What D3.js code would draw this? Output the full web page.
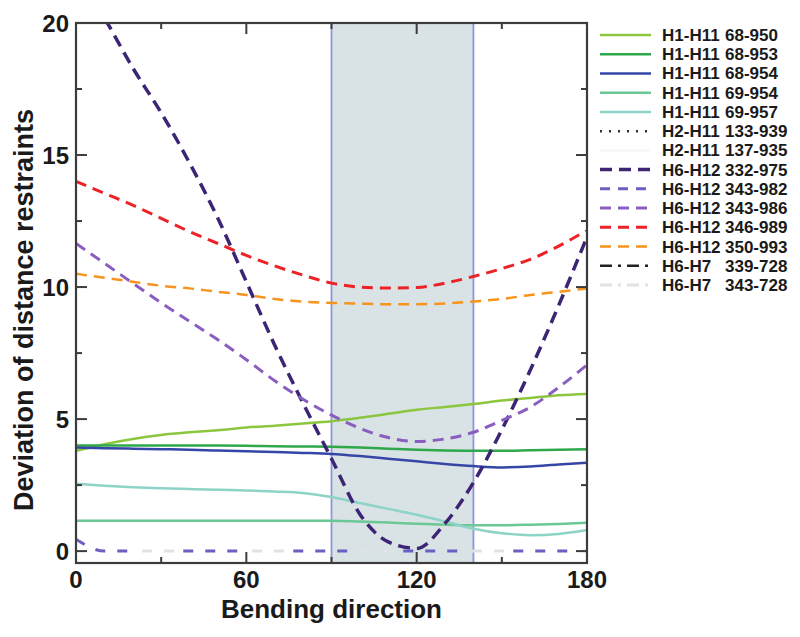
<!DOCTYPE html>
<html>
<head>
<meta charset="utf-8">
<script src="https://cdn.jsdelivr.net/npm/d3@7"></script>
<style>
  body { margin: 0; background: #fff; }
  text { font-family: "Liberation Sans", Arial, Helvetica, sans-serif; font-weight: bold; fill: #1a1a1a; }
</style>
</head>
<body>
<div id="chart"></div>
<script>
// bending angle samples (degrees)
var angles = [0, 10, 20, 30, 40, 50, 60, 70, 80, 90, 100, 110, 120, 130, 140, 150, 160, 170, 180];

// deviation values, one array per restraint
var h1_68_950 = [3.8, 4.05, 4.25, 4.4, 4.5, 4.58, 4.68, 4.75, 4.83, 4.92, 5.05, 5.2, 5.35, 5.46, 5.57, 5.7, 5.8, 5.9, 5.95];
var h1_68_953 = [4.0, 4.0, 4.0, 4.0, 4.0, 4.0, 3.99, 3.97, 3.96, 3.95, 3.92, 3.88, 3.84, 3.81, 3.8, 3.8, 3.82, 3.84, 3.86];
var h1_68_954 = [3.92, 3.9, 3.88, 3.86, 3.84, 3.81, 3.78, 3.75, 3.72, 3.68, 3.6, 3.5, 3.4, 3.3, 3.22, 3.17, 3.2, 3.28, 3.35];
var h1_69_954 = [1.15, 1.15, 1.15, 1.15, 1.15, 1.15, 1.15, 1.15, 1.15, 1.15, 1.12, 1.08, 1.04, 1.0, 0.98, 0.98, 1.0, 1.03, 1.07];
var h1_69_957 = [2.55, 2.48, 2.42, 2.38, 2.35, 2.32, 2.3, 2.26, 2.2, 2.05, 1.82, 1.6, 1.38, 1.12, 0.85, 0.68, 0.6, 0.65, 0.8];
var h6_332_975 = [22.0, 20.2, 18.3, 16.6, 14.7, 12.6, 10.2, 7.8, 5.6, 3.5, 1.4, 0.35, 0.1, 1.05, 2.6, 4.6, 6.85, 9.3, 11.9];
var h6_343_982 = [0.45, 0, 0, 0, 0, 0, 0, 0, 0, 0, 0, 0, 0, 0, 0, 0, 0, 0, 0];
var h6_343_986 = [11.65, 10.9, 10.15, 9.4, 8.7, 8.0, 7.25, 6.45, 5.75, 5.15, 4.65, 4.3, 4.15, 4.25, 4.5, 4.95, 5.45, 6.2, 7.05];
var h6_346_989 = [14.0, 13.55, 13.1, 12.6, 12.1, 11.65, 11.2, 10.8, 10.45, 10.15, 10.0, 9.96, 9.98, 10.15, 10.4, 10.7, 11.05, 11.55, 12.15];
var h6_350_993 = [10.5, 10.35, 10.2, 10.05, 9.95, 9.82, 9.7, 9.55, 9.45, 9.4, 9.37, 9.35, 9.35, 9.38, 9.45, 9.55, 9.7, 9.82, 9.95];
var h7_343_728 = [0, 0, 0, 0, 0, 0, 0, 0, 0, 0, 0, 0, 0, 0, 0, 0, 0, 0, 0];

// legend entries (pair names, atom ranges)
var pairNames = ["H1-H11", "H1-H11", "H1-H11", "H1-H11", "H1-H11", "H2-H11", "H2-H11",
                 "H6-H12", "H6-H12", "H6-H12", "H6-H12", "H6-H12", "H6-H7", "H6-H7"];
var atomRanges = ["68-950", "68-953", "68-954", "69-954", "69-957", "133-939", "137-935",
                  "332-975", "343-982", "343-986", "346-989", "350-993", "339-728", "343-728"];

// shaded range of bending directions
var band = [90, 140];
var xTicks = [0, 60, 120, 180];
var xMinor = [30, 90, 150];
var yTicks = [0, 5, 10, 15, 20];
var yMinor = [2.5, 7.5, 12.5, 17.5];

var styles = [
    {data: h1_68_950, color: "#8cc63f", dash: null, w: 2.5},
    {data: h1_68_953, color: "#2ea84a", dash: null, w: 2.5},
    {data: h1_68_954, color: "#3546a6", dash: null, w: 2.5},
    {data: h1_69_954, color: "#6cc796", dash: null, w: 2.5},
    {data: h1_69_957, color: "#8dd3c7", dash: null, w: 2.5},
    {data: null, color: "#333333", dash: "2,7", w: 2.5},
    {data: null, color: "#f6f6f6", dash: null, w: 2.5},
    {data: h6_332_975, color: "#3d2575", dash: "12,7", w: 3.5},
    {data: h6_343_982, color: "#6a60c2", dash: "10,12,10,12,10,56", w: 3, legendDash: "10,8"},
    {data: h6_343_986, color: "#8a5ebf", dash: "11,7", w: 3},
    {data: h6_346_989, color: "#ec2227", dash: "11,7", w: 3},
    {data: h6_350_993, color: "#f7941e", dash: "11,7", w: 2.5},
    {data: null, color: "#222222", dash: "12,6,3,6", w: 2.5},
    {data: h7_343_728, color: "#dfe3e6", dash: "10,12,10,78", w: 3, offset: 44, legendDash: "12,6,3,6"}
];

var width = 800, height = 637;
var margin = {top: 23, right: 213, bottom: 74, left: 76};
var pw = width - margin.left - margin.right;
var ph = height - margin.top - margin.bottom;

var svg = d3.select("#chart").append("svg")
    .attr("width", width)
    .attr("height", height);

var g = svg.append("g")
    .attr("transform", "translate(" + margin.left + "," + margin.top + ")");

var xa = d3.scaleLinear().domain([0, 180]).range([0, pw]);
var ya = d3.scaleLinear().domain([-0.45, 20]).range([ph, 0]);

svg.append("defs").append("clipPath").attr("id", "clip")
    .append("rect").attr("width", pw).attr("height", ph);

// shaded band
g.append("rect")
    .attr("x", xa(band[0]))
    .attr("y", 0)
    .attr("width", xa(band[1]) - xa(band[0]))
    .attr("height", ph)
    .attr("fill", "#d9e3e5");
band.forEach(function(b) {
    g.append("line")
        .attr("x1", xa(b)).attr("x2", xa(b))
        .attr("y1", 0).attr("y2", ph)
        .attr("stroke", "#8e97d6")
        .attr("stroke-width", 1.8);
});

var line = d3.line()
    .x(function(d, i) { return xa(angles[i]); })
    .y(function(d) { return ya(d); })
    .curve(d3.curveMonotoneX);

var lines = g.append("g").attr("clip-path", "url(#clip)");
styles.forEach(function(s) {
    if (!s.data) return;
    lines.append("path")
        .attr("d", line(s.data))
        .attr("fill", "none")
        .attr("stroke", s.color)
        .attr("stroke-width", s.w)
        .attr("stroke-dasharray", s.dash)
        .attr("stroke-dashoffset", s.offset || 0);
});

// frame and ticks (inward on all four sides)
g.append("rect")
    .attr("width", pw).attr("height", ph)
    .attr("fill", "none")
    .attr("stroke", "#3c3c3c")
    .attr("stroke-width", 2.2);

var tickStroke = "#3c3c3c";
function xTick(v, len) {
    g.append("line").attr("x1", xa(v)).attr("x2", xa(v)).attr("y1", ph).attr("y2", ph - len)
        .attr("stroke", tickStroke).attr("stroke-width", 2);
    g.append("line").attr("x1", xa(v)).attr("x2", xa(v)).attr("y1", 0).attr("y2", len)
        .attr("stroke", tickStroke).attr("stroke-width", 2);
}
function yTick(v, len) {
    g.append("line").attr("x1", 0).attr("x2", len).attr("y1", ya(v)).attr("y2", ya(v))
        .attr("stroke", tickStroke).attr("stroke-width", 2);
    g.append("line").attr("x1", pw).attr("x2", pw - len).attr("y1", ya(v)).attr("y2", ya(v))
        .attr("stroke", tickStroke).attr("stroke-width", 2);
}
xTicks.forEach(function(v) { xTick(v, 11); });
xMinor.forEach(function(v) { xTick(v, 6); });
yTicks.forEach(function(v) { yTick(v, 11); });
yMinor.forEach(function(v) { yTick(v, 6); });

// tick labels
g.selectAll(".xlab").data(xTicks).enter().append("text")
    .attr("class", "xlab")
    .attr("x", function(d) { return xa(d); })
    .attr("y", ph + 25)
    .attr("text-anchor", "middle")
    .style("font-size", "24px")
    .text(function(d) { return d; });

g.selectAll(".ylab").data(yTicks).enter().append("text")
    .attr("class", "ylab")
    .attr("x", -7)
    .attr("y", function(d) { return ya(d) + 9; })
    .attr("text-anchor", "end")
    .style("font-size", "24px")
    .text(function(d) { return d; });

// axis titles
g.append("text")
    .attr("x", pw / 2)
    .attr("y", ph + 55)
    .attr("text-anchor", "middle")
    .style("font-size", "26px")
    .text("Bending direction");

svg.append("text")
    .attr("transform", "translate(33," + (margin.top + ph / 2 + 17) + ") rotate(-90)")
    .attr("text-anchor", "middle")
    .style("font-size", "27px")
    .text("Deviation of distance restraints");

// legend
var legend = svg.append("g");
styles.forEach(function(s, i) {
    var yy = 35 + i * 19.23;
    legend.append("line")
        .attr("x1", 600).attr("x2", 651)
        .attr("y1", yy).attr("y2", yy)
        .attr("stroke", s.color)
        .attr("stroke-width", s.w)
        .attr("stroke-dasharray", s.legendDash || s.dash);
    var t = legend.append("text")
        .attr("x", 662)
        .attr("y", yy + 6)
        .style("font-size", "17px");
    t.append("tspan").text(pairNames[i]);
    t.append("tspan").attr("x", 725).text(atomRanges[i]);
});
</script>
</body>
</html>
